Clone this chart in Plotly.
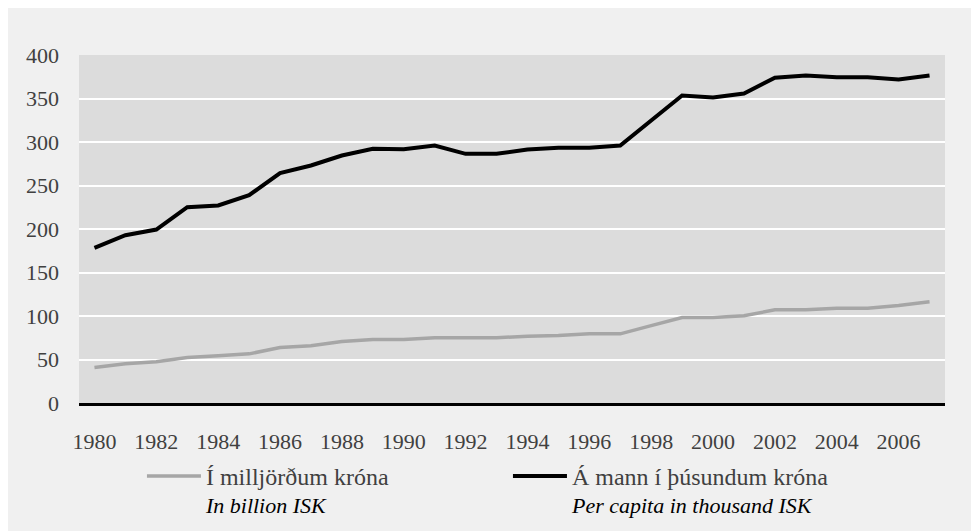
import plotly.graph_objects as go

years = [str(y) for y in range(1980, 2008)]
tick_years = [str(y) for y in range(1980, 2008, 2)]

billion_isk = [40.8, 45.0, 47.3, 52.3, 54.2, 56.5, 63.8, 65.7, 70.7, 73.0, 73.0, 74.9, 74.9, 74.9,
               76.8, 77.6, 79.5, 79.5, 89.0, 98.3, 98.3, 100.2, 107.1, 107.1, 109.0, 109.0, 112.0, 116.3]
per_capita = [178.4, 192.9, 199.4, 225.1, 227.0, 238.9, 264.2, 273.0, 284.5, 292.2, 291.7, 296.0, 286.4, 286.4,
              291.4, 293.3, 293.3, 296.0, 324.7, 353.4, 351.1, 355.7, 373.8, 376.4, 374.5, 374.5, 371.8, 376.4]

name1 = "Í milljörðum króna"
sub1 = "In billion ISK"
name2 = "Á mann í þúsundum króna"
sub2 = "Per capita in thousand ISK"

FONT = "Liberation Serif"
TXT = "#404040"

def legend_label(main, sub):
    return (f"<span style=\"font-size:24px\">{main}</span><br>"
            f"<i><span style=\"color:#000000;font-size:22px\">{sub}</span></i>")

fig = go.Figure()
fig.add_trace(go.Scatter(x=years, y=billion_isk, mode="lines", name=legend_label(name1, sub1),
                         line=dict(color="#a6a6a6", width=3.5)))
fig.add_trace(go.Scatter(x=years, y=per_capita, mode="lines", name=legend_label(name2, sub2),
                         line=dict(color="#000000", width=4)))

fig.update_layout(
    width=971, height=523,
    margin=dict(l=71, r=34, t=47, b=128, autoexpand=False),
    paper_bgcolor="#f0f0f0",
    plot_bgcolor="#dcdcdc",
    font=dict(family=FONT, size=22, color=TXT),
    showlegend=True,
    legend=dict(orientation="h", x=0.0727, xanchor="left", y=-0.15, yanchor="top",
                bgcolor="rgba(0,0,0,0)", font=dict(family=FONT, size=22, color=TXT),
                itemwidth=54, entrywidth=297, entrywidthmode="pixels", valign="top",
                tracegroupgap=0),
    xaxis=dict(type="category", categoryorder="array", categoryarray=years,
               tickmode="array", tickvals=tick_years, ticktext=tick_years,
               range=[-0.5, len(years) - 0.5],
               showgrid=False, zeroline=False, showline=True, linecolor="#000000", linewidth=3,
               ticks="", ticklabelstandoff=17, tickfont=dict(family=FONT, size=22, color=TXT)),
    yaxis=dict(range=[0, 400], tickvals=[0, 50, 100, 150, 200, 250, 300, 350, 400],
               showgrid=True, gridcolor="#ffffff", gridwidth=1.5, zeroline=False, showline=False,
               ticks="", ticklabelstandoff=19, tickfont=dict(family=FONT, size=22, color=TXT)),
)

fig.write_html("out.html")
